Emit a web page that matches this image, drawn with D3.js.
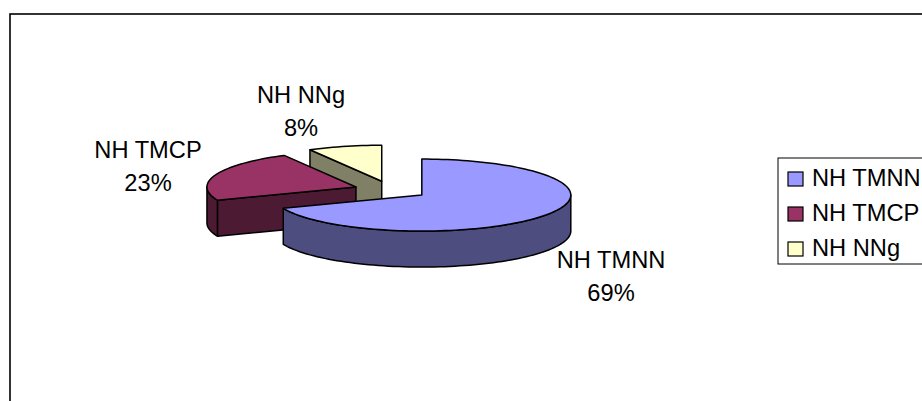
<!DOCTYPE html>
<html>
<head>
<meta charset="utf-8">
<script src="https://cdn.jsdelivr.net/npm/d3@7/dist/d3.min.js"></script>
<style>
html,body{margin:0;padding:0;background:#fff;overflow:hidden}
svg{display:block}
text{font-family:"Liberation Sans",Arial,sans-serif;fill:#000}
</style>
</head>
<body>
<svg id="chart" width="922" height="401"></svg>
<script>
const categories = ["NH TMNN", "NH TMCP", "NH NNg"];
const shares = [69, 23, 8];
const topColors = ["#9999ff", "#993366", "#ffffcc"];
const wallColors = ["#4d4d80", "#4d1a33", "#808066"];

const W = 922, H = 401;
const svg = d3.select("#chart");
const INK = "#000";

// Elliptical 3-D pie: tilt comes from the different x and y radii.
const cx = 391, cy = 190, rx = 149, ry = 36, depth = 36, explode = 0.25;
const fontSize = 23, xStretch = 1.03;

const arcs = d3.pie().sort(null).value(d => d)(shares);
const angleDeg = d3.scaleLinear().domain([0, 2 * Math.PI]).range([0, 360]);

svg.append("rect").attr("x", 10).attr("y", 14)
  .attr("width", W + 20).attr("height", H + 20)
  .attr("fill", "#fff").attr("stroke", INK).attr("stroke-width", 1.6);

const rimPoint = (c, a) => [c[0] + rx * Math.sin(a), c[1] - ry * Math.cos(a)];
const lineGen = d3.line();

function sampleArc(c, a0, a1) {
  const n = Math.max(2, Math.ceil(angleDeg(a1 - a0) / 2));
  return d3.range(n + 1).map(i => rimPoint(c, a0 + (a1 - a0) * i / n));
}

const slices = arcs.map((arc, i) => {
  const mid = (arc.startAngle + arc.endAngle) / 2;
  const c = [cx + explode * rx * Math.sin(mid), cy - explode * ry * Math.cos(mid)];
  return {arc, i, c};
});

// Paint back to front: far slices first, the large front slice last.
const order = [2, 1, 0];
const mark = svg.append("g").attr("stroke", INK).attr("stroke-width", 1.5)
  .attr("stroke-linejoin", "round");

const down = p => [p[0], p[1] + depth];

order.forEach(k => {
  const {arc, i, c} = slices[k];
  const g = mark.append("g").attr("class", "slice");
  const a0 = arc.startAngle, a1 = arc.endAngle;

  // The cut face on the leading edge shows only when it turns toward the viewer.
  if (Math.sin(a0) < -1e-6) {
    const p = rimPoint(c, a0);
    const quad = [c, p, down(p), down(c)];
    g.append("path").attr("d", lineGen(quad) + "Z").attr("fill", wallColors[i]);
  }

  // Outer rim: only the part on the near half of the ellipse shows.
  const lo = Math.max(a0, Math.PI / 2), hi = Math.min(a1, 3 * Math.PI / 2);
  if (hi > lo) {
    const rim = sampleArc(c, lo, hi);
    const wall = rim.concat(rim.slice().reverse().map(down));
    g.append("path").attr("d", lineGen(wall) + "Z").attr("fill", wallColors[i]);
  }

  // Top face.
  const top = [c].concat(sampleArc(c, a0, a1));
  g.append("path").attr("d", lineGen(top) + "Z").attr("fill", topColors[i]);
});

// Text widened slightly to the proportions used throughout the chart.
function label(x, y, str, anchor) {
  return svg.append("text")
    .attr("transform", `translate(${x},${y}) scale(${xStretch},1)`)
    .attr("font-size", fontSize)
    .attr("text-anchor", anchor || "middle")
    .text(str);
}

const pct = shares.map(v => v + "%");
const labelAt = [[611, 268], [148, 158], [301, 103]];
const lineGap = 33;
categories.forEach((name, i) => {
  label(labelAt[i][0], labelAt[i][1], name);
  label(labelAt[i][0], labelAt[i][1] + lineGap, pct[i]);
});

// Legend box runs off the right edge of the chart area.
const legend = svg.append("g");
legend.append("rect").attr("x", 778).attr("y", 158)
  .attr("width", 200).attr("height", 106)
  .attr("fill", "#fff").attr("stroke", INK).attr("stroke-width", 1);
const rowY = d3.scalePoint().domain(categories).range([179, 249]);
categories.forEach((name, i) => {
  legend.append("rect").attr("x", 788).attr("y", rowY(name) - 7)
    .attr("width", 15).attr("height", 14)
    .attr("fill", topColors[i]).attr("stroke", INK).attr("stroke-width", 1.2);
  label(812, rowY(name) + 7, name, "start");
});
</script>
</body>
</html>
